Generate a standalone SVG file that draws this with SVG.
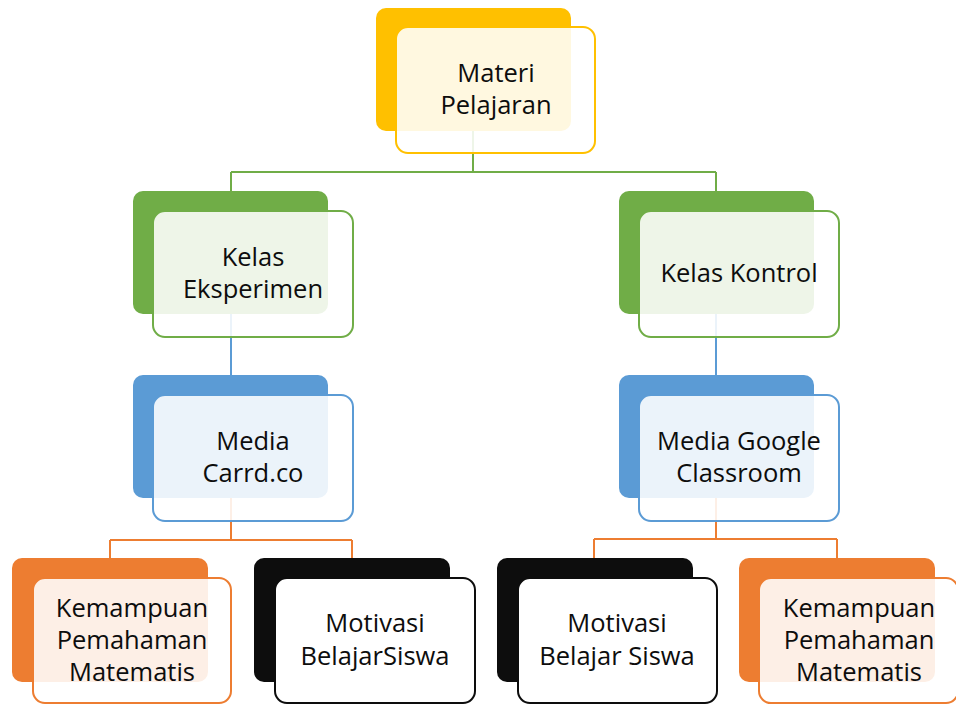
<svg xmlns="http://www.w3.org/2000/svg" width="956" height="704" viewBox="0 0 956 704">
<style>
.back{stroke:none}
.front{fill:#ffffff;fill-opacity:0.88;stroke-width:2}
.c{fill:none;stroke-width:2}
text{font-family:"Open Sans","Noto Sans","Liberation Sans",sans-serif;font-size:25.5px;fill:#0d0d0d;text-anchor:middle}
</style>
<rect width="956" height="704" fill="#ffffff"/>
<g id="connectors">
<path class="c" stroke="#70AD47" d="M473 130V172M231 172H716M231 172V191M716 172V191"/>
<path class="c" stroke="#5B9BD5" d="M231 314V375M716 314V375"/>
<path class="c" stroke="#ED7D31" d="M231 497V540M110 540H352M110 540V558M352 540V558M716 497V539M594 539H837M594 539V558M837 539V558"/>
</g>
<g id="materi">
<rect class="back" x="376" y="8" width="195" height="123" rx="10" fill="#FFC000"/>
<rect class="front" x="396" y="27" width="199" height="126" rx="12" stroke="#FFC000"/>
<text x="496" y="82">Materi</text>
<text x="496" y="114">Pelajaran</text>
</g>
<g id="eksperimen">
<rect class="back" x="133" y="191" width="195" height="123" rx="10" fill="#70AD47"/>
<rect class="front" x="153" y="211" width="200" height="126" rx="12" stroke="#70AD47"/>
<text x="253" y="266">Kelas</text>
<text x="253" y="298">Eksperimen</text>
</g>
<g id="kontrol">
<rect class="back" x="619" y="191" width="195" height="123" rx="10" fill="#70AD47"/>
<rect class="front" x="639" y="211" width="200" height="126" rx="12" stroke="#70AD47"/>
<text x="739" y="282">Kelas Kontrol</text>
</g>
<g id="carrd">
<rect class="back" x="133" y="375" width="195" height="123" rx="10" fill="#5B9BD5"/>
<rect class="front" x="153" y="395" width="200" height="126" rx="12" stroke="#5B9BD5"/>
<text x="253" y="450">Media</text>
<text x="253" y="482">Carrd.co</text>
</g>
<g id="google">
<rect class="back" x="619" y="375" width="195" height="123" rx="10" fill="#5B9BD5"/>
<rect class="front" x="639" y="395" width="200" height="126" rx="12" stroke="#5B9BD5"/>
<text x="739" y="450">Media Google</text>
<text x="739" y="482">Classroom</text>
</g>
<g id="kemampuan-left">
<rect class="back" x="12" y="558" width="196" height="124" rx="10" fill="#ED7D31"/>
<rect class="front" x="33" y="578" width="198" height="125" rx="12" stroke="#ED7D31"/>
<text x="132" y="617">Kemampuan</text>
<text x="132" y="649">Pemahaman</text>
<text x="132" y="681">Matematis</text>
</g>
<g id="motivasi-left">
<rect class="back" x="254" y="558" width="196" height="124" rx="10" fill="#0D0D0D"/>
<rect class="front" x="275" y="578" width="200" height="125" rx="12" stroke="#0D0D0D" stroke-width="2.5" style="fill-opacity:1"/>
<text x="375" y="632">Motivasi</text>
<text x="375" y="665">BelajarSiswa</text>
</g>
<g id="motivasi-right">
<rect class="back" x="497" y="558" width="196" height="124" rx="10" fill="#0D0D0D"/>
<rect class="front" x="518" y="578" width="199" height="125" rx="12" stroke="#0D0D0D" stroke-width="2.5" style="fill-opacity:1"/>
<text x="617" y="632">Motivasi</text>
<text x="617" y="665">Belajar Siswa</text>
</g>
<g id="kemampuan-right">
<rect class="back" x="739" y="558" width="196" height="124" rx="10" fill="#ED7D31"/>
<rect class="front" x="759" y="578" width="199" height="125" rx="12" stroke="#ED7D31"/>
<text x="859" y="617">Kemampuan</text>
<text x="859" y="649">Pemahaman</text>
<text x="859" y="681">Matematis</text>
</g>
</svg>
